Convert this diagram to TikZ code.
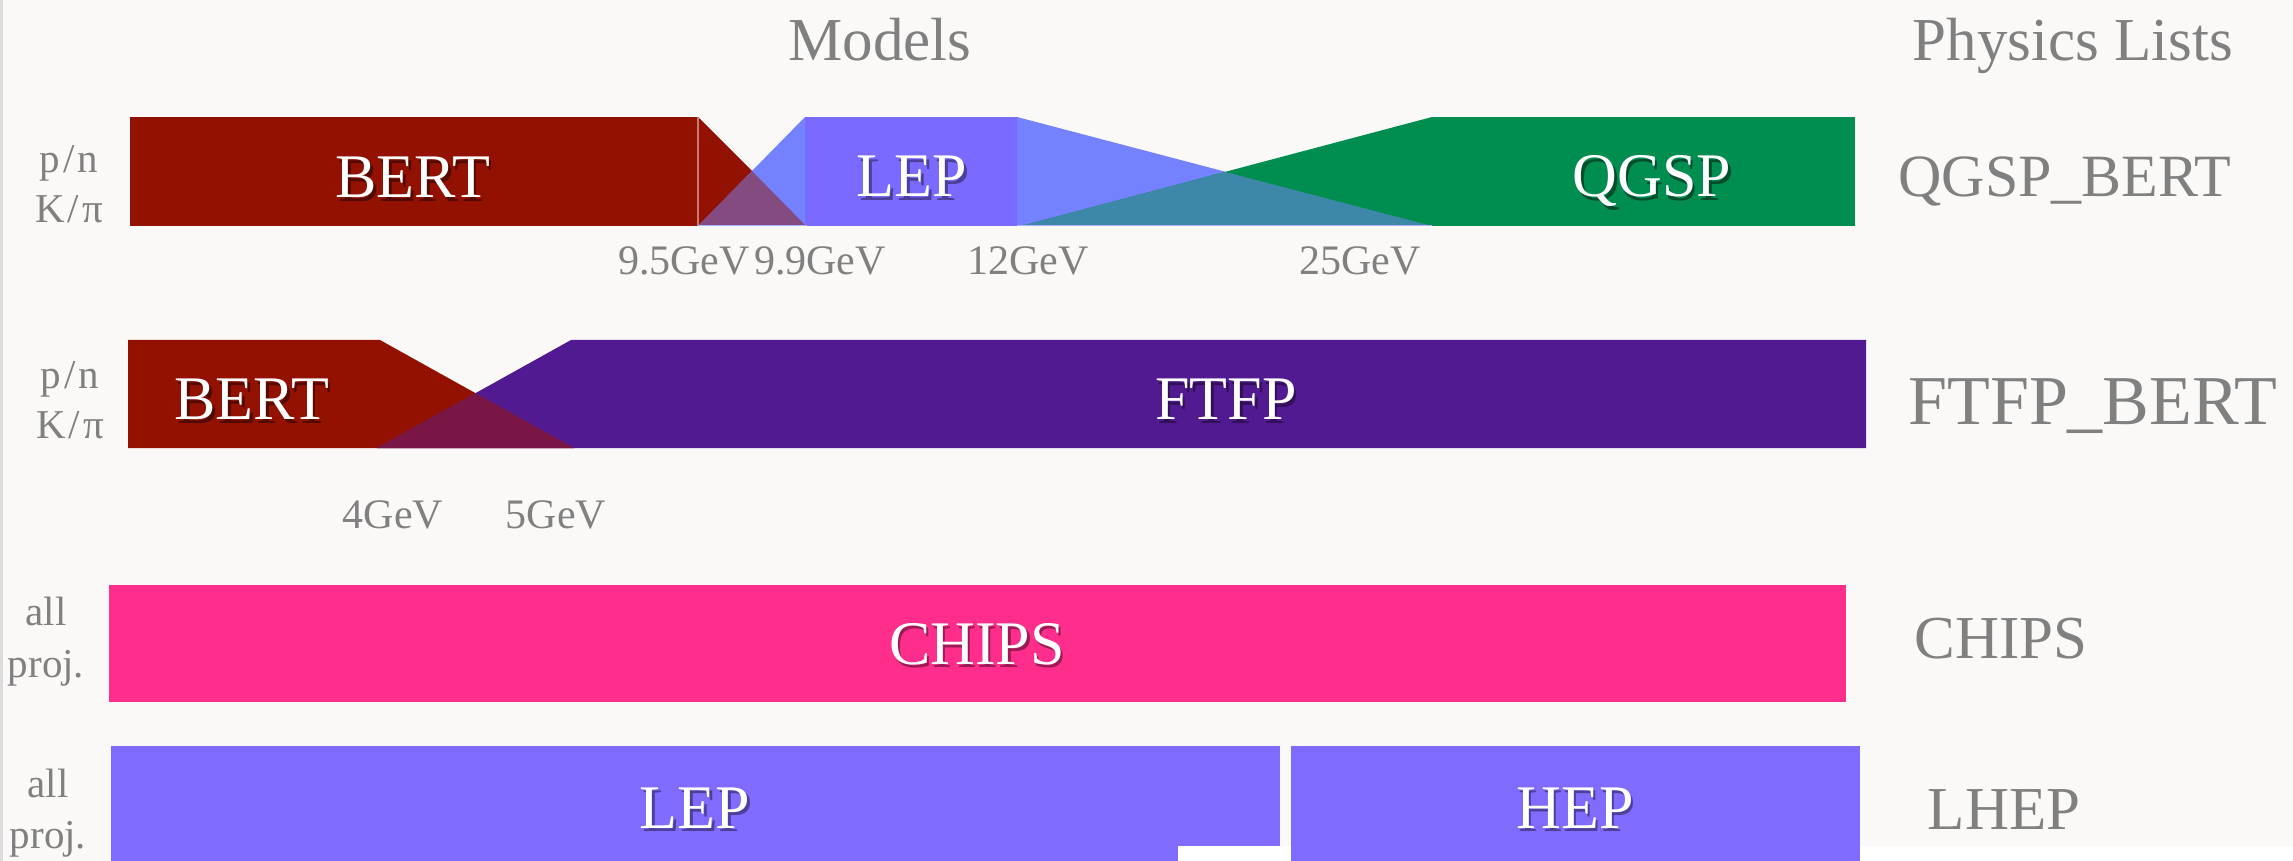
\documentclass[tikz,border=0pt]{standalone}
\usepackage{fontspec}
\setmainfont{Liberation Serif}

\definecolor{bgpaper}{HTML}{FAF9F7}
\definecolor{edgegray}{HTML}{DCDCDC}
\definecolor{bertred}{HTML}{931100}
\definecolor{lepviolet}{HTML}{7B6AFF}
\definecolor{lepblue}{HTML}{7582FF}
\definecolor{bertlep}{HTML}{834B80}
\definecolor{qgspgreen}{HTML}{008E50}
\definecolor{lepqgsp}{HTML}{3D88A8}
\definecolor{ftfpviolet}{HTML}{521A91}
\definecolor{bertftfp}{HTML}{7A1645}
\definecolor{chipspink}{HTML}{FF2E8C}
\definecolor{lhepviolet}{HTML}{806BFF}
\definecolor{labelgray}{HTML}{808080}

% white text with a soft drop shadow
\newcommand{\shadowed}[2]{\makebox[0pt][l]{\hspace{1.2pt}\raisebox{-1.6pt}{\textcolor{#1}{#2}}}#2}

\tikzset{
  model/.style={anchor=base,inner sep=0.75pt,text=white,font=\fontsize{31}{36}\selectfont},
  plist/.style={anchor=base,inner sep=0.75pt,text=labelgray,font=\fontsize{30.5}{36}\selectfont},
  energy/.style={anchor=base,inner sep=0.75pt,text=labelgray,font=\fontsize{21}{25}\selectfont},
  projectile/.style={anchor=base,inner sep=0.75pt,text=labelgray,font=\fontsize{20.5}{25}\selectfont},
  seam/.style={line width=0.6pt},
}

\begin{document}
\begin{tikzpicture}[x=0.5pt,y=0.5pt,yscale=-1,xscale=1]
\useasboundingbox (0,0) rectangle (2293,861);

%Shape: Background
\fill[bgpaper] (0,0) rectangle (2293,861);
\fill[edgegray] (0,0) rectangle (3,861);

%Shape: QGSP_BERT row
\fill[bertred] (130,117) rectangle (698,226);
\fill[bertred] (698,117) -- (807,226) -- (698,226) -- cycle;
\fill[lepblue] (805,117) -- (805,226) -- (698,226) -- cycle;
\fill[bertlep] (698,226) -- (752,171) -- (806,226) -- cycle;
\fill[lepviolet] (805,117) rectangle (1017,226);
\fill[lepblue] (1017,117) -- (1432,226) -- (1017,226) -- cycle;
\fill[qgspgreen] (1432,117) rectangle (1855,226);
\fill[qgspgreen] (1432,117) -- (1432,226) -- (1021,226) -- cycle;
\fill[lepqgsp] (1021,226) -- (1225.5,172) -- (1432,226) -- cycle;
\draw[seam,bertred!55!white] (698,117) -- (698,226);
\draw[seam,lepblue!60!white] (698,225.5) -- (807,225.5);
\draw[seam,lepblue!60!white] (1017,225.5) -- (1432,225.5);

%Shape: FTFP_BERT row
\fill[bertred] (128,340) -- (380,340) -- (574,448) -- (128,448) -- cycle;
\fill[ftfpviolet] (571,340) -- (1866,340) -- (1866,448) -- (377,448) -- cycle;
\fill[bertftfp] (377,448) -- (475.5,393) -- (574,448) -- cycle;

%Shape: CHIPS row
\fill[chipspink] (109,585) rectangle (1846,702);

%Shape: LHEP row
\fill[lhepviolet] (111,746) rectangle (1280,861);
\fill[white] (1178,846) rectangle (2293,861);
\fill[lhepviolet] (1291,746) rectangle (1860,861);

% Text Node: headers
\draw (880,61) node [plist] (models) {Models};
\draw (2073,61) node [plist] (lists) {Physics Lists};

% Text Node: projectiles
\draw (69,173) node [projectile] (pnA) {p\kern1.5pt/\kern1.5pt n};
\draw (69,223) node [projectile] (kpiA) {K\kern1.5pt/\kern1.5pt π};
\draw (70,388) node [projectile] (pnB) {p\kern1.5pt/\kern1.5pt n};
\draw (70,438) node [projectile] (kpiB) {K\kern1.5pt/\kern1.5pt π};
\draw (46,625) node [projectile] (allC) {all};
\draw (46,677) node [projectile] (projC) {proj.};
\draw (48,797) node [projectile] (allD) {all};
\draw (48,848) node [projectile] (projD) {proj.};

% Text Node: models
\draw (413,198) node [model] (bertA) {\shadowed{bertred!55!black}{BERT}};
\draw (912,197) node [model] (lepA) {\shadowed{lepviolet!60!black}{LEP}};
\draw (1652,197) node [model] (qgsp) {\shadowed{qgspgreen!55!black}{QGSP}};
\draw (252,420) node [model] (bertB) {\shadowed{bertred!55!black}{BERT}};
\draw (1226,420) node [model] (ftfp) {\shadowed{ftfpviolet!60!black}{FTFP}};
\draw (977,664) node [model] (chips) {\shadowed{chipspink!60!black}{CHIPS}};
\draw (695,828) node [model] (lepD) {\shadowed{lhepviolet!60!black}{LEP}};
\draw (1575,828) node [model] (hep) {\shadowed{lhepviolet!60!black}{HEP}};

% Text Node: energies
\draw (684,275) node [energy] (eA) {9.5GeV};
\draw (820,275) node [energy] (eB) {9.9GeV};
\draw (1028,275) node [energy] (eC) {12GeV};
\draw (1360,275) node [energy] (eD) {25GeV};
\draw (393,528) node [energy] (eE) {4GeV};
\draw (556,528) node [energy] (eF) {5GeV};

% Text Node: physics lists
\draw (2065,197) node [plist,font=\fontsize{30}{36}\selectfont] (qgspbert) {QGSP\_BERT};
\draw (2093,424) node [plist,font=\fontsize{35}{40}\selectfont] (ftfpbert) {FTFP\_BERT};
\draw (2001,658) node [plist] (chipslist) {CHIPS};
\draw (2004,829) node [plist] (lheplist) {LHEP};

\end{tikzpicture}
\end{document}
